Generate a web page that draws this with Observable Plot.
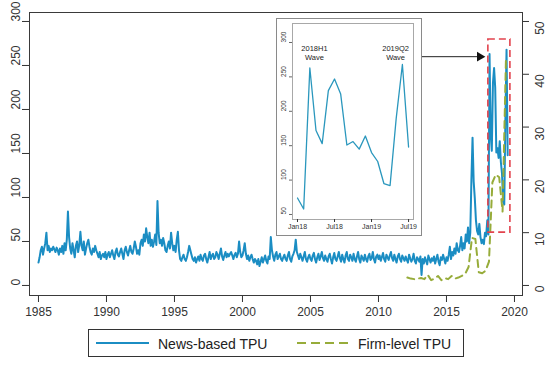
<!DOCTYPE html>
<html>
<head>
<meta charset="utf-8">
<script src="https://cdn.jsdelivr.net/npm/d3@7"></script>
<script src="https://cdn.jsdelivr.net/npm/@observablehq/plot@0.6"></script>
<style>
  html, body { margin: 0; padding: 0; background: #fff; }
  #wrap { position: relative; width: 557px; height: 373px; overflow: hidden; font-family: "Liberation Sans", Arial, sans-serif; }
  #inset { position: absolute; left: 276px; top: 18px; border: 1px solid #8a8a8a; background: #fff; line-height: 0; }
  #legend { position: absolute; left: 88px; top: 329px; width: 376px; height: 28px; border: 1px solid #333; box-sizing: border-box; background: #fff; }
</style>
</head>
<body>
<div id="wrap">
  <div id="main"></div>
  <div id="inset"></div>
  <div id="legend"></div>
</div>
<script>
// ---------------- data ----------------
const startYear = 1985;
// News-based TPU, monthly, Jan 1985 - Jul 2019
const newsTPU = [
  26, 32, 40, 44, 35, 42, 48, 60, 40, 45, 38, 42,   // 1985
  40, 44, 41, 38, 43, 40, 35, 42, 38, 45, 36, 48,   // 1986
  40, 52, 84, 55, 42, 36, 48, 40, 32, 45, 50, 38,   // 1987
  46, 61, 45, 40, 50, 35, 42, 48, 52, 44, 38, 35,   // 1988
  42, 38, 45, 40, 36, 32, 38, 30, 34, 36, 32, 38,   // 1989
  30, 35, 38, 32, 36, 40, 34, 30, 38, 42, 35, 33,   // 1990
  38, 42, 36, 30, 40, 44, 38, 34, 40, 45, 38, 36,   // 1991
  42, 50, 44, 36, 40, 35, 48, 52, 45, 58, 50, 65,   // 1992
  55, 48, 60, 45, 52, 44, 50, 58, 46, 96, 60, 48,   // 1993
  52, 45, 54, 48, 40, 38, 45, 50, 42, 60, 48, 40,   // 1994
  45, 38, 52, 61, 40, 30, 28, 32, 35, 30, 28, 32,   // 1995
  38, 45, 40, 35, 30, 28, 32, 26, 30, 33, 28, 35,   // 1996
  30, 28, 34, 36, 30, 26, 32, 38, 30, 34, 36, 30,   // 1997
  32, 38, 35, 30, 36, 42, 33, 29, 34, 38, 32, 36,   // 1998
  33, 36, 38, 34, 30, 35, 37, 32, 36, 50, 38, 32,   // 1999
  34, 40, 48, 36, 30, 34, 28, 32, 35, 30, 26, 30,   // 2000
  28, 24, 30, 22, 27, 32, 26, 30, 34, 28, 25, 33,   // 2001
  30, 55, 40, 33, 28, 35, 38, 30, 33, 36, 30, 28,   // 2002
  32, 35, 30, 28, 34, 38, 30, 27, 33, 36, 40, 52,   // 2003
  38, 34, 30, 36, 32, 28, 33, 38, 30, 27, 32, 35,   // 2004
  30, 28, 34, 37, 30, 26, 32, 36, 29, 33, 38, 31,   // 2005
  28, 34, 30, 27, 33, 36, 30, 25, 32, 37, 30, 28,   // 2006
  33, 38, 31, 27, 35, 30, 26, 34, 38, 30, 28, 35,   // 2007
  32, 28, 36, 30, 27, 33, 38, 30, 26, 34, 31, 28,   // 2008
  35, 30, 27, 33, 36, 29, 31, 38, 30, 26, 33, 35,   // 2009
  30, 34, 28, 32, 37, 30, 27, 35, 32, 29, 34, 38,   // 2010
  31, 28, 35, 30, 26, 33, 36, 30, 27, 34, 31, 28,   // 2011
  33, 29, 26, 35, 31, 27, 30, 36, 28, 25, 32, 30,   // 2012
  27, 33, 12, 30, 25, 32, 28, 24, 34, 30, 26, 31,   // 2013
  28, 33, 25, 30, 35, 27, 23, 32, 29, 35, 30, 25,   // 2014
  32, 28, 35, 44, 30, 38, 34, 42, 36, 48, 40, 38,   // 2015
  45, 55, 40, 48, 42, 58, 50, 66, 48, 60, 120, 168, // 2016
  118, 99, 74, 62, 58, 70, 55, 48, 52, 47, 60, 56,  // 2017
  74, 58, 263, 172, 153, 230, 247, 225, 151, 156, 145, 164, // 2018
  140, 127, 95, 92, 190, 268, 148                   // 2019
];
// Firm-level TPU, quarterly, 2012Q1 - 2019Q2 (right axis)
const firmStart = 2012;
const firmTPU = [
  1.5, 1.3, 1.2, 1.3,
  1.4, 1.2, 2.0, 1.0,
  1.3, 1.8, 1.0, 1.4,
  1.2, 1.8, 1.3, 1.5,
  1.8, 2.2, 3.5, 9.0,
  8.8, 2.5, 2.3, 2.8,
  4.5, 19.5, 21.0, 20.5,
  14.0, 43.0
];
const xTicks = [1985, 1990, 1995, 2000, 2005, 2010, 2015, 2020];
const leftTicks = [0, 50, 100, 150, 200, 250, 300];
const rightTicks = [0, 10, 20, 30, 40, 50];
const rightToLeft = 6; // right axis 0-50 spans left axis 0-300

// inset
const insetStart = 2018;
const insetTickMonths = [0, 6, 12, 18];
const insetTickLabels = ["Jan18", "Jul18", "Jan19", "Jul19"];
const insetYTicks = [50, 100, 150, 200, 250, 300];
const insetNotes = [
  {m: 2.75, v: 285, label: "2018H1\nWave"},
  {m: 15.9, v: 285, label: "2019Q2\nWave"}
];
// highlight box (red dashed) and arrow, in data units
const boxSpec = {x1: 2018.08, x2: 2019.7, y1: 10 * rightToLeft, y2: 46.6 * rightToLeft};
const arrowSpec = {x1: 2013.16, x2: 2017.45, tip: 2017.45, y: 260};

const legendItems = ["News-based TPU", "Firm-level TPU"];

// ---------------- build ----------------
const blue = "#1b8dc3";
const green = "#97ac3a";
const red = "#e2434d";
const ink = "#333";

const news = newsTPU.map((v, i) => ({date: startYear + i / 12, value: v}));
const firm = firmTPU.map((v, i) => ({date: firmStart + (i + 0.5) / 4, value: v}));
const insetData = newsTPU.slice((insetStart - startYear) * 12).map((v, i) => ({m: i, value: v}));

const main = Plot.plot({
  width: 557,
  height: 322,
  marginTop: 12,
  marginBottom: 27,
  marginLeft: 29,
  marginRight: 35,
  x: {domain: [1984.34, 2020.59]},
  y: {domain: [-11.4, 310.2]},
  style: {fontFamily: "'Liberation Sans', Arial, sans-serif", fontSize: "12px", color: ink, background: "transparent"},
  marks: [
    Plot.axisX({ticks: xTicks, tickSize: 7, tickPadding: 5, tickFormat: d => String(d), label: null}),
    Plot.axisY({anchor: "left", ticks: leftTicks, tickSize: 7, tickFormat: () => "", label: null}),
    Plot.text(leftTicks, {y: d => d, text: d => String(d), frameAnchor: "left", rotate: -90, dx: -13.5, fill: ink}),
    Plot.axisY({anchor: "right", ticks: rightTicks.map(d => d * rightToLeft), tickSize: 6, tickFormat: () => "", label: null}),
    Plot.text(rightTicks, {y: d => d * rightToLeft, text: d => String(d), frameAnchor: "right", rotate: -90, dx: 18, fill: ink}),
    Plot.frame({stroke: "#3a3a3a"}),
    Plot.line(news, {x: "date", y: "value", stroke: blue, strokeWidth: 2}),
    Plot.line(firm, {x: "date", y: d => d.value * rightToLeft, stroke: green, strokeWidth: 2, strokeDasharray: "7,5"}),
    Plot.rect([boxSpec], {x1: "x1", x2: "x2", y1: "y1", y2: "y2", fill: "none", stroke: red, strokeWidth: 1.6, strokeDasharray: "7,4"}),
    Plot.link([arrowSpec], {x1: "x1", x2: "x2", y1: "y", y2: "y", stroke: "#222", strokeWidth: 1}),
    Plot.dot([arrowSpec], {x: "tip", y: "y", symbol: "triangle", rotate: 90, r: 3.6, fill: "#111", stroke: "none"})
  ]
});
document.getElementById("main").appendChild(main);

const inset = Plot.plot({
  width: 144,
  height: 216,
  marginTop: 4,
  marginBottom: 16,
  marginLeft: 15,
  marginRight: 8,
  x: {domain: [-0.81, 18.8]},
  y: {domain: [42.7, 327.6]},
  style: {fontFamily: "'Liberation Sans', Arial, sans-serif", fontSize: "7px", color: ink, background: "#fff"},
  marks: [
    Plot.frame({stroke: "#a8a8a8"}),
    Plot.axisY({anchor: "left", ticks: insetYTicks, tickSize: 3, tickFormat: () => "", label: null, stroke: "#666"}),
    Plot.text(insetYTicks, {y: d => d, text: d => String(d), frameAnchor: "left", rotate: -90, dx: -8.5, fill: ink, fontSize: 6.5}),
    Plot.axisX({ticks: insetTickMonths, tickSize: 3, tickPadding: 2, tickFormat: (d, i) => insetTickLabels[insetTickMonths.indexOf(d)], label: null, fontSize: 7}),
    Plot.line(insetData, {x: "m", y: "value", stroke: "#2a97bd", strokeWidth: 1.3}),
    Plot.text(insetNotes, {x: "m", y: "v", text: "label", fontSize: 7.5, lineHeight: 1.1, fill: "#222"})
  ]
});
document.getElementById("inset").appendChild(inset);

// legend
const lg = d3.select("#legend").append("svg").attr("width", 374).attr("height", 26);
lg.append("line").attr("x1", 7).attr("x2", 60).attr("y1", 13).attr("y2", 13)
  .attr("stroke", blue).attr("stroke-width", 2);
lg.append("text").attr("x", 69).attr("y", 18.5).text(legendItems[0])
  .attr("font-size", 14).attr("fill", "#222").attr("font-family", "'Liberation Sans', Arial, sans-serif");
lg.append("line").attr("x1", 208).attr("x2", 262).attr("y1", 13).attr("y2", 13)
  .attr("stroke", green).attr("stroke-width", 2).attr("stroke-dasharray", "9,5");
lg.append("text").attr("x", 269).attr("y", 18.5).text(legendItems[1])
  .attr("font-size", 14).attr("fill", "#222").attr("font-family", "'Liberation Sans', Arial, sans-serif");
</script>
</body>
</html>
